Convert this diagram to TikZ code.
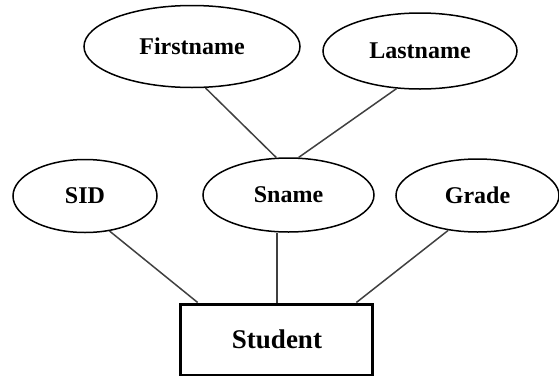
\documentclass[tikz,border=0pt]{standalone}
\usepackage{fontspec}
\setmainfont{Liberation Serif}
\usetikzlibrary{shapes.geometric}

\begin{document}
\begin{tikzpicture}[x=0.5pt, y=-0.5pt,
    attr/.style={ellipse, draw, line width=0.75pt, inner sep=0pt, font=\bfseries\fontsize{12}{14}\selectfont},
    entity/.style={rectangle, draw, line width=1.5pt, inner sep=0pt, font=\bfseries\fontsize{13.5}{16}\selectfont},
    link/.style={draw=black!75, line width=0.75pt}]
    \useasboundingbox (0,0) rectangle (559,376);

    \node (firstname) [attr, minimum width=108pt, minimum height=41pt] at (192,46.5) {Firstname};
    \node (lastname) [attr, minimum width=97pt, minimum height=38pt] at (420,51) {Lastname};
    \node (sid) [attr, minimum width=72pt, minimum height=36.5pt] at (85,196) {SID};
    \node (sname) [attr, minimum width=85.5pt, minimum height=37pt] at (288.5,195) {Sname};
    \node (grade) [attr, minimum width=81.5pt, minimum height=36.5pt] at (477.5,195.5) {Grade};
    \node (student) [entity, minimum width=96pt, minimum height=35.5pt] at (277,339.5) {Student};

    \draw[link] (firstname.-72) -- (sname.108);
    \draw[link] (lastname.-122) -- (sname.75);
    \draw[link] (sid.-55) -- (student.155);
    \draw[link] (student.north |- sname.south) -- (student.north);
    \draw[link] (grade.-130) -- (student.25);
\end{tikzpicture}
\end{document}
